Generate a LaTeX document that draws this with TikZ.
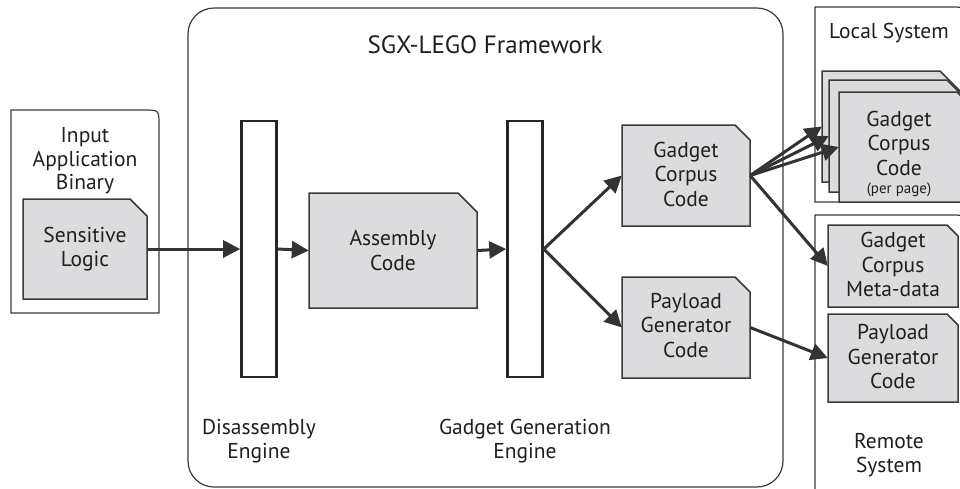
\documentclass[tikz,border=0pt]{standalone}
\usepackage{fontspec}
\setmainfont{PT Sans}
\usetikzlibrary{arrows.meta}
\definecolor{docfill}{HTML}{DCDCDE}
\definecolor{edgec}{HTML}{3A3A3A}
\definecolor{arrc}{HTML}{333333}
\newcommand\docnode[7]{%
  \filldraw[docline] (#2,#5) -- (#2,#3) -- ({#4-#6},#3) -- (#4,{#3+#6}) -- (#4,#5) -- cycle;
  \node[docbox, minimum width={#4-#2}, minimum height={#5-#3}] (#1) at ({(#2+#4)/2},{(#3+#5)/2}) {#7};}
\begin{document}
\begin{tikzpicture}[x=1pt,y=-1pt,
  docline/.style={fill=docfill, draw=edgec, line width=1.5pt, line join=miter},
  docbox/.style={inner sep=0pt, align=center, font=\fontsize{21.5}{24.5}\selectfont, text=black!88},
  lbl/.style={align=center, font=\fontsize{21.5}{23.5}\selectfont, text=black!88, inner sep=0pt},
  small/.style={align=center, font=\fontsize{15}{16}\selectfont, text=black!88, inner sep=0pt},
  box/.style={draw=edgec, line width=1.2pt},
  bar/.style={draw=black!85, line width=2.6pt, fill=white, minimum width=35pt, minimum height=256pt, inner sep=0pt},
  arr/.style={draw=arrc, line width=3pt, -{Triangle[length=17pt,width=17pt]}}]
\useasboundingbox (0,0) rectangle (960,488);
\clip (0,0) rectangle (960,488);

% containers
\draw[box] (11,313) -- (11,110) -- (144,110) .. controls (159,110) .. (159,125) -- (159,313) -- cycle;
\draw[box, rounded corners=26pt] (188,8) rectangle (783,487);
\draw[box] (815,202) -- (815,7) -- (950,7) .. controls (968,7) .. (968,25) -- (968,202) -- cycle;
\draw[box] (815,500) -- (815,215) -- (950,215) .. controls (968,215) .. (968,233) -- (968,500);

% container labels
\node[lbl] (inlbl) at (85,161) {Input\\Application\\Binary};
\node[lbl, font=\fontsize{25}{28}\selectfont] (fwlbl) at (485,45) {SGX-LEGO Framework};
\node[lbl] (dislbl) at (259,441) {Disassembly\\Engine};
\node[lbl] (genlbl) at (525,441) {Gadget Generation\\Engine};
\node[lbl] (loclbl) at (889,33) {Local System};
\node[lbl] (remlbl) at (889,455) {Remote\\System};

% bars
\node[bar] (dis) at (259,249) {};
\node[bar] (gen) at (525,249) {};

% documents
\docnode{sens}{23}{199}{147}{299}{17}{Sensitive\\Logic}
\docnode{asm}{309}{193}{477}{308}{19}{Assembly\\Code}
\docnode{gcc}{622}{125}{750}{226}{15}{\\[-12pt]Gadget\\Corpus\\Code}
\docnode{pay}{622}{277}{750}{378}{15}{\\[-14pt]Payload\\Generator\\Code}
\docnode{stkA}{822}{71}{960}{182}{20}{}
\docnode{stkB}{829}{80}{967}{192}{20}{}
\docnode{stkC}{839}{92}{977}{202}{20}{}
\node[lbl, font=\fontsize{21.5}{24.5}\selectfont] (stktxt) at (899,143) {Gadget\\Corpus\\Code};
\node[small] (stkpp) at (899,190) {(per page)};
\docnode{meta}{828}{225}{958}{307}{11}{\\[-12pt]Gadget\\Corpus\\Meta-data}
\docnode{rpay}{828}{314}{958}{402}{11}{\\[-12pt]Payload\\Generator\\Code}

% connectors
\draw[arr] (sens.east) -- (dis.west);
\draw[arr] (dis.east) -- (asm.west);
\draw[arr] (asm.east) -- (gen.west);
\draw[arr] (gen.east) -- (gcc.west);
\draw[arr] (gen.east) -- (pay.west);
\draw[arr] (gcc.east) -- (stkA.west);
\draw[arr] (gcc.east) -- (stkB.west);
\draw[arr] (gcc.east) -- (stkC.west);
\draw[arr] (gcc.east) -- (meta.west);
\draw[arr] (pay.east) -- (rpay.west);
\end{tikzpicture}
\end{document}
